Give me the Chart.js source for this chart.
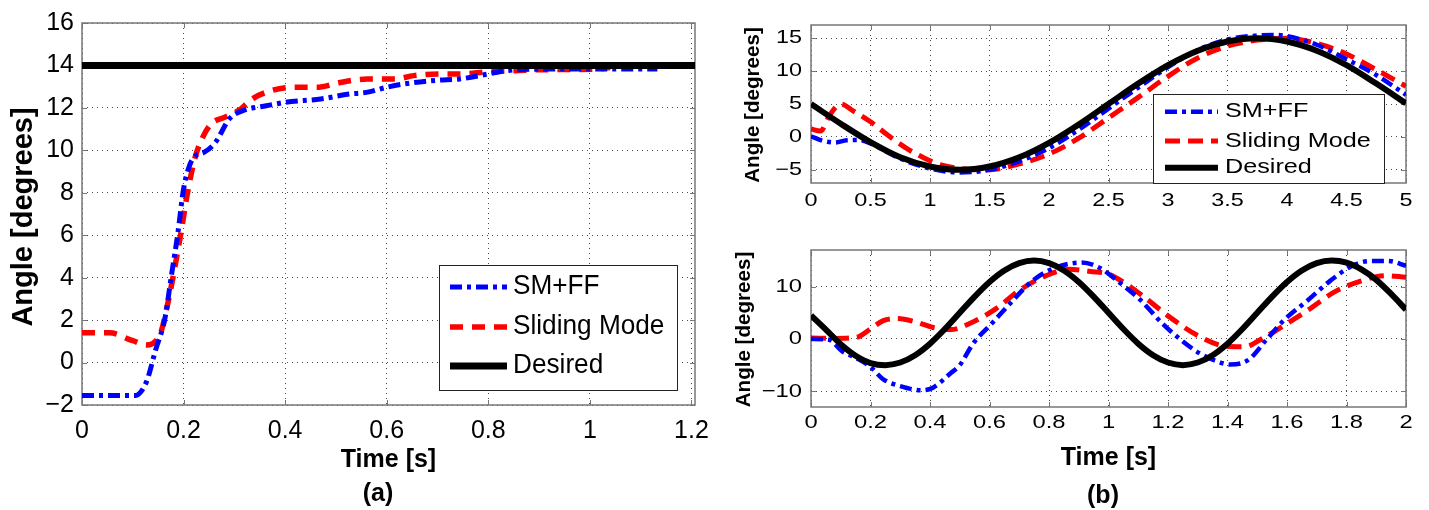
<!DOCTYPE html>
<html>
<head>
<meta charset="utf-8">
<title>Angle tracking: SM+FF vs Sliding Mode</title>
<script src="https://cdn.jsdelivr.net/npm/chart.js@4.4.1/dist/chart.umd.min.js"></script>
<style>
  html, body { margin: 0; padding: 0; background: #fff; }
  body { width: 1429px; height: 510px; position: relative; overflow: hidden; }
  canvas { position: absolute; display: block; }
  .cap { position: absolute; width: 100px; text-align: center; line-height: 30px;
         font: bold 25px "Liberation Sans", Arial, sans-serif; color: #000; }
</style>
</head>
<body>
<canvas id="chartA" width="720" height="480" style="left:0;top:0"></canvas>
<canvas id="chartB1" width="709" height="215" style="left:720px;top:0"></canvas>
<canvas id="chartB2" width="709" height="280" style="left:720px;top:230px"></canvas>
<div class="cap" style="left:328px;top:478px">(a)</div>
<div class="cap" style="left:1053px;top:480px">(b)</div>
<script>
// ---- series names and axis titles ----
const seriesNames = ['SM+FF', 'Sliding Mode', 'Desired'];
const yAxisTitle = 'Angle [degrees]';
const xAxisTitle = 'Time [s]';

// ---- tick values ----
const ticksAx = [0, 0.2, 0.4, 0.6, 0.8, 1, 1.2];
const ticksAy = [-2, 0, 2, 4, 6, 8, 10, 12, 14, 16];
const ticksB1x = [0, 0.5, 1, 1.5, 2, 2.5, 3, 3.5, 4, 4.5, 5];
const ticksB1y = [-5, 0, 5, 10, 15];
const ticksB2x = [0, 0.2, 0.4, 0.6, 0.8, 1, 1.2, 1.4, 1.6, 1.8, 2];
const ticksB2y = [-10, 0, 10];

// ---- (a) step response ----
const timeA_smff = [0, 0.105, 0.127, 0.145, 0.163, 0.177, 0.189, 0.2, 0.218, 0.24, 0.263, 0.29, 0.317, 0.363, 0.4, 0.47, 0.526, 0.56, 0.6, 0.635, 0.7, 0.743, 0.8, 0.834, 0.925, 1.015, 1.133];
const angleA_smff = [-1.55, -1.55, -0.9, 0.6, 2.05, 4.25, 6.14, 8.18, 9.6, 9.9, 10.38, 11.48, 11.87, 12.1, 12.26, 12.42, 12.65, 12.73, 12.97, 13.13, 13.3, 13.36, 13.6, 13.75, 13.83, 13.83, 13.83];
const timeA_sm = [0, 0.054, 0.1, 0.127, 0.155, 0.168, 0.181, 0.195, 0.208, 0.222, 0.236, 0.254, 0.281, 0.308, 0.335, 0.372, 0.417, 0.462, 0.508, 0.562, 0.617, 0.653, 0.707, 0.743, 0.8, 0.852, 0.907, 1.015, 1.04];
const angleA_sm = [1.4, 1.4, 1.03, 0.83, 1.42, 2.68, 4.25, 6.14, 8.02, 9.6, 10.53, 11.24, 11.56, 11.87, 12.42, 12.81, 12.97, 12.97, 13.2, 13.36, 13.36, 13.52, 13.6, 13.6, 13.7, 13.75, 13.8, 13.83, 13.9];
const timeA_des = [0, 1.207];
const angleA_des = [14, 14];

// ---- (b) upper: slow sinusoidal reference ----
const timeB1_smff = [0, 0.1, 0.2, 0.3, 0.4, 0.5, 0.75, 1, 1.25, 1.5, 1.75, 2, 2.25, 2.5, 2.75, 3, 3.25, 3.5, 3.75, 3.9, 4, 4.25, 4.5, 4.75, 5];
const angleB1_smff = [0.1, -0.6, -0.85, -0.5, -0.45, -1.0, -3.3, -4.8, -5.4, -5.0, -3.7, -1.7, 1.1, 4.3, 7.5, 10.6, 13.2, 14.8, 15.4, 15.5, 15.3, 14.0, 11.8, 9.4, 6.4];
const timeB1_sm = [0, 0.08, 0.16, 0.25, 0.35, 0.5, 0.65, 0.8, 0.95, 1.1, 1.25, 1.4, 1.55, 1.75, 2, 2.25, 2.5, 2.75, 3, 3.25, 3.5, 3.75, 4, 4.25, 4.5, 4.75, 5];
const angleB1_sm = [1.2, 0.9, 3.4, 5.0, 4.0, 2.3, 0.2, -1.7, -3.2, -4.3, -4.8, -5.0, -4.9, -4.1, -2.6, -0.2, 2.9, 6.0, 9.2, 12.0, 13.8, 14.7, 15.0, 14.2, 12.6, 10.2, 7.7];
const timeB1_des = [0, 0.25, 0.5, 0.75, 1, 1.25, 1.5, 1.75, 2, 2.25, 2.5, 2.75, 3, 3.25, 3.5, 3.75, 4, 4.25, 4.5, 4.75, 5];
const angleB1_des = [5.0, 2.0, -0.8, -3.1, -4.5, -5.0, -4.5, -3.1, -0.9, 1.9, 5.0, 8.1, 10.9, 13.1, 14.5, 15.0, 14.5, 13.1, 10.9, 8.1, 5.1];

// ---- (b) lower: fast sinusoidal reference ----
const timeB2_smff = [0, 0.06, 0.106, 0.152, 0.197, 0.243, 0.3, 0.372, 0.41, 0.47, 0.5, 0.546, 0.607, 0.668, 0.744, 0.82, 0.91, 0.97, 1.03, 1.108, 1.18, 1.244, 1.305, 1.366, 1.41, 1.47, 1.53, 1.59, 1.67, 1.745, 1.82, 1.88, 1.94, 2];
const angleB2_smff = [0, -0.15, -2.4, -3.65, -5.2, -7.7, -9.0, -9.8, -9.3, -6.5, -5.0, -0.8, 2.9, 6.7, 11.1, 13.6, 14.6, 13.6, 11.1, 7.4, 3.0, -0.2, -2.7, -4.3, -4.9, -4.0, -0.2, 3.6, 7.4, 11.1, 14.0, 14.9, 14.9, 14.0];
const timeB2_sm = [0, 0.076, 0.152, 0.197, 0.243, 0.29, 0.35, 0.41, 0.47, 0.546, 0.622, 0.698, 0.79, 0.865, 0.94, 1.0, 1.06, 1.12, 1.21, 1.305, 1.396, 1.457, 1.517, 1.59, 1.67, 1.76, 1.85, 1.93, 2];
const angleB2_sm = [0.2, 0.1, 0.3, 1.8, 3.5, 3.9, 3.3, 2.2, 1.8, 3.3, 5.8, 9.2, 12.1, 13.3, 12.9, 12.4, 10.5, 8.0, 4.0, 0.5, -1.4, -1.5, 0.1, 2.6, 5.5, 9.0, 11.1, 12.1, 11.8];
const timeB2_des = [0, 0.05, 0.1, 0.15, 0.2, 0.25, 0.3, 0.35, 0.4, 0.45, 0.5, 0.55, 0.6, 0.65, 0.7, 0.75, 0.8, 0.85, 0.9, 0.95, 1, 1.05, 1.1, 1.15, 1.2, 1.25, 1.3, 1.35, 1.4, 1.45, 1.5, 1.55, 1.6, 1.65, 1.7, 1.75, 1.8, 1.85, 1.9, 1.95, 2];
const angleB2_des = [4.5, 1.8, -1.0, -3.2, -4.6, -5.0, -4.5, -3.1, -0.9, 1.9, 5.0, 8.1, 10.9, 13.1, 14.5, 15.0, 14.5, 13.1, 10.9, 8.1, 5.0, 1.9, -0.9, -3.1, -4.5, -5.0, -4.5, -3.1, -0.9, 1.9, 5.0, 8.1, 10.9, 13.1, 14.5, 15.0, 14.6, 13.3, 11.3, 8.6, 5.6];

const FONT = '"Liberation Sans", Arial, Helvetica, sans-serif';
Chart.defaults.font.family = FONT;
Chart.defaults.color = '#000';

function pts(xs, ys) { return xs.map((x, i) => ({ x: x, y: ys[i] })); }
function fmtTick(v) { return v < 0 ? '\u2212' + String(-v) : String(v); }

// text drawn with a stretch factor along its own baseline
function drawStretched(ctx, text, x, y, sx, align, rot) {
  ctx.save();
  ctx.translate(x, y);
  if (rot) ctx.rotate(rot);
  ctx.scale(sx, 1);
  ctx.textAlign = align;
  ctx.fillText(text, 0, 0);
  ctx.restore();
}

// axes box with inward tick marks on all four sides
const framePlugin = {
  id: 'frame',
  beforeDatasetsDraw(chart, args, o) {
    const { ctx, chartArea: a, scales } = chart;
    const L = Math.round(a.left), R = Math.round(a.right), T = Math.round(a.top), B = Math.round(a.bottom);
    ctx.save();
    ctx.strokeStyle = o.color;
    ctx.lineWidth = o.width;
    ctx.strokeRect(L, T, R - L, B - T);
    ctx.lineWidth = 1;
    ctx.beginPath();
    scales.x.ticks.forEach(t => {
      const p = Math.round(scales.x.getPixelForValue(t.value)) + 0.5;
      ctx.moveTo(p, B); ctx.lineTo(p, B - o.len);
      ctx.moveTo(p, T); ctx.lineTo(p, T + o.len);
    });
    scales.y.ticks.forEach(t => {
      const p = Math.round(scales.y.getPixelForValue(t.value)) + 0.5;
      ctx.moveTo(L, p); ctx.lineTo(L + o.len, p);
      ctx.moveTo(R, p); ctx.lineTo(R - o.len, p);
    });
    ctx.stroke();
    ctx.restore();
  }
};

// tick labels and the vertical axis title, placed from the scales' own pixels
const tickTextPlugin = {
  id: 'tickText',
  afterDraw(chart, args, o) {
    const { ctx, chartArea: a, scales } = chart;
    ctx.save();
    ctx.fillStyle = '#000';
    ctx.font = o.size + 'px ' + FONT;
    ctx.textBaseline = 'middle';
    scales.x.ticks.forEach(t => drawStretched(ctx, t.label, scales.x.getPixelForValue(t.value), a.bottom + o.xGap, o.sx, 'center'));
    scales.y.ticks.forEach(t => drawStretched(ctx, t.label, a.left - o.yGap, scales.y.getPixelForValue(t.value), o.sx, 'right'));
    ctx.font = 'bold ' + o.titleSize + 'px ' + FONT;
    drawStretched(ctx, yAxisTitle, o.titleX, (a.top + a.bottom) / 2 + o.titleDy, o.titleSx, 'center', -Math.PI / 2);
    ctx.restore();
  }
};

// boxed legend inside the plot area
const boxLegendPlugin = {
  id: 'boxLegend',
  afterDatasetsDraw(chart, args, o) {
    const { ctx, chartArea: a } = chart;
    const x0 = Math.round(a.right - o.right - o.width), y0 = Math.round(a.bottom - o.bottom - o.height);
    ctx.save();
    ctx.fillStyle = '#fff';
    ctx.fillRect(x0, y0, o.width, o.height);
    ctx.strokeStyle = '#222';
    ctx.lineWidth = 1;
    ctx.strokeRect(x0 + 0.5, y0 + 0.5, o.width, o.height);
    ctx.font = o.size + 'px ' + FONT;
    ctx.textBaseline = 'middle';
    ctx.fillStyle = '#000';
    chart.data.datasets.forEach((ds, i) => {
      const y = y0 + o.rows[i];
      ctx.save();
      ctx.beginPath();
      ctx.setLineDash(ds.borderDash || []);
      ctx.lineCap = 'butt';
      ctx.lineWidth = ds.borderWidth;
      ctx.strokeStyle = ds.borderColor;
      ctx.moveTo(x0 + o.lineStart, y);
      ctx.lineTo(x0 + o.lineEnd, y);
      ctx.stroke();
      ctx.restore();
      drawStretched(ctx, ds.label, x0 + o.textStart, y, o.sx, 'left');
    });
    ctx.restore();
  }
};

function makeDatasets(s, w) {
  return [
    { label: seriesNames[0], data: s.smff, borderColor: '#0000ff', borderWidth: w.smff, borderDash: [12, 5, 4, 5], order: 1 },
    { label: seriesNames[1], data: s.sm, borderColor: '#ff0000', borderWidth: w.sm, borderDash: w.smDash, order: 2 },
    { label: seriesNames[2], data: s.des, borderColor: '#000000', borderWidth: w.des, borderDash: [], order: 0 }
  ].map(d => Object.assign(d, { pointRadius: 0, fill: false, borderCapStyle: 'butt', borderJoinStyle: 'round', cubicInterpolationMode: 'monotone' }));
}

function makeChart(id, c) {
  const gridOpts = { color: '#4a4a4a', lineWidth: 1, drawTicks: false };
  const borderOpts = { display: false, dash: [1, 4] };
  return new Chart(document.getElementById(id), {
    type: 'line',
    data: { datasets: c.datasets },
    options: {
      responsive: false,
      animation: false,
      events: [],
      layout: { padding: c.padding },
      plugins: {
        legend: { display: false },
        tooltip: { enabled: false },
        frame: { color: '#777', width: 1.5, len: 5 },
        tickText: c.tickText,
        boxLegend: c.legend
      },
      scales: {
        x: {
          type: 'linear', position: 'bottom', min: c.xMin, max: c.xMax,
          afterBuildTicks: s => { s.ticks = c.xTicks.map(v => ({ value: v })); },
          afterFit: s => { s.height = c.xHeight; },
          ticks: { display: false, callback: fmtTick },
          grid: gridOpts, border: borderOpts,
          title: c.xTitle
        },
        y: {
          type: 'linear', position: 'left', min: c.yMin, max: c.yMax,
          afterBuildTicks: s => { s.ticks = c.yTicks.map(v => ({ value: v })); },
          afterFit: s => { s.width = c.yWidth; },
          ticks: { display: false, callback: fmtTick },
          grid: gridOpts, border: borderOpts,
          title: { display: false }
        }
      }
    },
    plugins: [framePlugin, tickTextPlugin, boxLegendPlugin]
  });
}

// (a)
makeChart('chartA', {
  datasets: makeDatasets(
    { smff: pts(timeA_smff, angleA_smff), sm: pts(timeA_sm, angleA_sm), des: pts(timeA_des, angleA_des) },
    { smff: 5, sm: 5.5, smDash: [13, 9], des: 7 }),
  padding: { left: 0, top: 23, right: 25, bottom: 0 },
  xMin: 0, xMax: 1.207, yMin: -2, yMax: 16,
  xTicks: ticksAx, yTicks: ticksAy,
  xHeight: 75, yWidth: 82,
  xTitle: { display: true, text: xAxisTitle, font: { size: 25, weight: 'bold' }, padding: { top: 0, bottom: 5 } },
  tickText: { size: 25, sx: 1.0, xGap: 26, yGap: 8, titleSize: 29, titleX: 24, titleDy: 3, titleSx: 1.0 },
  legend: { width: 238, height: 125, right: 18, bottom: 15, rows: [22, 62, 101], lineStart: 11, lineEnd: 68, textStart: 74, size: 27, sx: 0.97 }
});

// (b) upper
makeChart('chartB1', {
  datasets: makeDatasets(
    { smff: pts(timeB1_smff, angleB1_smff), sm: pts(timeB1_sm, angleB1_sm), des: pts(timeB1_des, angleB1_des) },
    { smff: 4.5, sm: 5, smDash: [15, 8], des: 6 }),
  padding: { left: 0, top: 25, right: 23, bottom: 0 },
  xMin: 0, xMax: 5, yMin: -7, yMax: 17,
  xTicks: ticksB1x, yTicks: ticksB1y,
  xHeight: 32, yWidth: 91,
  xTitle: { display: false },
  tickText: { size: 18, sx: 1.3, xGap: 18, yGap: 9, titleSize: 21, titleX: 33, titleDy: 1, titleSx: 0.98 },
  legend: { width: 231, height: 89, right: 22, bottom: 0, rows: [17.7, 47, 73.7], lineStart: 12, lineEnd: 65, textStart: 72, size: 21, sx: 1.2 }
});

// (b) lower
makeChart('chartB2', {
  datasets: makeDatasets(
    { smff: pts(timeB2_smff, angleB2_smff), sm: pts(timeB2_sm, angleB2_sm), des: pts(timeB2_des, angleB2_des) },
    { smff: 4.5, sm: 5, smDash: [15, 8], des: 6 }),
  padding: { left: 0, top: 20, right: 23, bottom: 0 },
  xMin: 0, xMax: 2, yMin: -13, yMax: 17,
  xTicks: ticksB2x, yTicks: ticksB2y,
  xHeight: 103, yWidth: 91,
  xTitle: { display: true, text: xAxisTitle, font: { size: 25, weight: 'bold' }, padding: { top: 0, bottom: 37 } },
  tickText: { size: 19, sx: 1.25, xGap: 16, yGap: 9, titleSize: 21, titleX: 24, titleDy: 1, titleSx: 0.98 },
  legend: false
});
</script>
</body>
</html>
